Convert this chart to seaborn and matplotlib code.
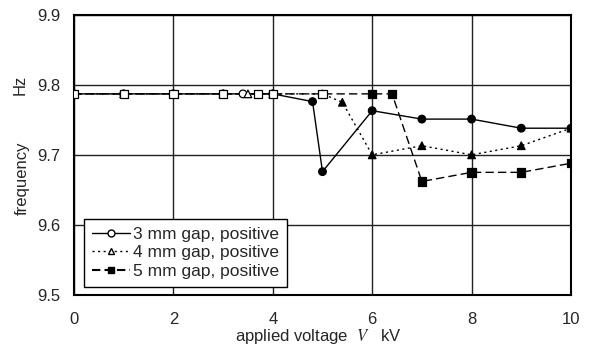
import matplotlib
matplotlib.use("Agg")
import matplotlib.pyplot as plt
from matplotlib.lines import Line2D
import seaborn as sns

# ---- data ----
x_3mm = [0, 1, 2, 3, 3.4, 4, 4.8, 5, 6, 7, 8, 9, 10]
y_3mm = [9.787, 9.787, 9.787, 9.787, 9.787, 9.787, 9.776, 9.676, 9.763, 9.751, 9.751, 9.738, 9.738]
x_4mm = [0, 1, 2, 3, 3.5, 4, 5, 5.4, 6, 7, 8, 9, 10]
y_4mm = [9.787, 9.787, 9.787, 9.787, 9.787, 9.787, 9.787, 9.775, 9.700, 9.713, 9.700, 9.713, 9.738]
x_5mm = [0, 1, 2, 3, 3.7, 4, 5, 6, 6.4, 7, 8, 9, 10]
y_5mm = [9.787, 9.787, 9.787, 9.787, 9.787, 9.787, 9.787, 9.787, 9.787, 9.662, 9.675, 9.675, 9.688]
labels = ["3 mm gap, positive", "4 mm gap, positive", "5 mm gap, positive"]
x_ticks = [0, 2, 4, 6, 8, 10]
y_ticks = [9.5, 9.6, 9.7, 9.8, 9.9]

sns.set_style("white")
plt.rcParams['font.family'] = ['Liberation Sans', 'DejaVu Sans']
plt.rcParams['mathtext.fontset'] = 'stix'

fig = plt.figure(figsize=(5.89, 3.47), dpi=100)
ax = fig.add_axes([0.1256, 0.150, 0.9694 - 0.1256, 0.9576 - 0.150])

series = [
    (x_3mm, y_3mm, '-', 'o', 6, 30, 3),
    (x_4mm, y_4mm, (0, (1.5, 2.5)), '^', 7, 30, 4),
    (x_5mm, y_5mm, (0, (6, 3)), 's', 7, 36, 5),
]
for xs, ys, ls, mk, first_filled, size, z in series:
    sns.lineplot(x=xs, y=ys, ax=ax, color='black', linestyle=ls, lw=1.0,
                 estimator=None, sort=False, zorder=2)
    faces = ['white' if i < first_filled else 'black' for i in range(len(xs))]
    ax.scatter(xs, ys, marker=mk, s=size, facecolors=faces, edgecolors='black',
               linewidths=0.9, zorder=z)

ax.set_xlim(0, 10)
ax.set_ylim(9.5, 9.9)
ax.set_xticks(x_ticks)
ax.set_xticklabels([str(t) for t in x_ticks])
ax.set_yticks(y_ticks)
ax.set_yticklabels([f"{t:.1f}" for t in y_ticks])
ax.tick_params(axis='x', length=0, pad=12, labelsize=12)
ax.tick_params(axis='y', length=0, pad=10, labelsize=12)
ax.grid(True, color='#222222', lw=1.0)
for sp in ax.spines.values():
    sp.set_visible(True)
    sp.set_color('black')
    sp.set_linewidth(1.5)

ax.set_xlabel("applied voltage  $V$   kV", fontsize=12)
ax.xaxis.set_label_coords(0.491, -0.113)
ax.set_ylabel("")
fig.text(20 / 589, 1 - 85 / 347, "Hz", rotation=90, ha='center', va='center', fontsize=12)
fig.text(22 / 589, 1 - 178 / 347, "frequency", rotation=90, ha='center', va='center', fontsize=12)

handles = [
    Line2D([], [], color='black', lw=1, ls='-', marker='o', ms=5, mfc='white', mec='black'),
    Line2D([], [], color='black', lw=1, ls=(0, (1.5, 2.5)), marker='^', ms=5, mfc='white', mec='black'),
    Line2D([], [], color='black', lw=1.5, ls=(0, (4, 2)), marker='s', ms=5, mfc='black', mec='black'),
]
leg = ax.legend(handles, labels, loc='lower left', bbox_to_anchor=(0.02, 0.03),
                fontsize=12.5, frameon=True, fancybox=False, edgecolor='black',
                framealpha=1, borderaxespad=0, handlelength=2.2, handletextpad=0.2,
                labelspacing=0.18, borderpad=0.45)
leg.get_frame().set_linewidth(1.0)

fig.savefig("out.png", dpi=100)
